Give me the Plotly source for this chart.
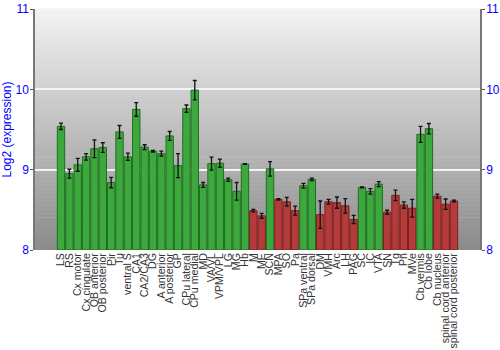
import plotly.graph_objects as go

categories = ["LS", "RS", "Cx motor", "Cx cingulate", "OB anterior", "OB posterior", "Pir", "Tu",
              "ventral S", "CA1", "CA2/CA3", "DG", "A anterior", "A posterior", "GP", "CPu lateral",
              "CPu medial", "MD", "VA/VL", "VPM/VPL", "LG", "MG", "Hb", "M", "ME", "SCN", "MPA", "SO",
              "Pa", "SPa ventral", "SPa dorsal", "DM", "VMH", "Arc", "LH", "PAG", "SC", "IC", "VTA",
              "SN", "Tg", "Pn", "MVe", "Cb vermis", "Cb lobe", "Cb nucleus", "spinal cord anterior",
              "spinal cord posterior"]

values = [9.54, 8.95, 9.06, 9.16, 9.26, 9.275, 8.84, 9.47,
          9.16, 9.75, 9.28, 9.23, 9.20, 9.42, 9.05, 9.76,
          9.99, 8.81, 9.075, 9.08, 8.875, 8.73, 9.07, 8.49, 8.425, 9.01, 8.63, 8.60,
          8.49, 8.80, 8.88, 8.44, 8.60, 8.59, 8.55, 8.38, 8.78, 8.73, 8.82,
          8.47, 8.68, 8.56, 8.52, 9.44, 9.51, 8.67, 8.57,
          8.61]

errors = [0.04, 0.055, 0.08, 0.04, 0.11, 0.06, 0.065, 0.08,
          0.045, 0.085, 0.03, 0.01, 0.03, 0.055, 0.15, 0.045,
          0.12, 0.03, 0.08, 0.05, 0.02, 0.11, 0.005, 0.015, 0.03, 0.09, 0.01, 0.055,
          0.055, 0.03, 0.015, 0.17, 0.03, 0.07, 0.09, 0.05, 0.005, 0.035, 0.03,
          0.025, 0.065, 0.04, 0.11, 0.1, 0.065, 0.025, 0.065,
          0.01]

expressed = [True] * 23 + [False, False, True, False, False, False, True, True,
                           False, False, False, False, False, True, True, True,
                           False, False, False, False, True, True, False, False, False]

y_ticks = [8, 9, 10, 11]

fill_colors = ["#3da83d" if e else "#b53a3a" for e in expressed]
line_colors = ["#1f6f1f" if e else "#7a2020" for e in expressed]

fig = go.Figure()

fig.add_trace(go.Bar(
    x=categories, y=[v - 8 for v in values], base=8,
    marker=dict(color=fill_colors, line=dict(color=line_colors, width=1)),
    error_y=dict(type="data", array=errors, color="#111111", thickness=1.3, width=2),
    hoverinfo="x+y",
))

# invisible twin trace so the right axis is drawn
fig.add_trace(go.Scatter(
    x=categories, y=values, yaxis="y2", mode="markers",
    marker=dict(opacity=0), hoverinfo="skip", showlegend=False,
))

# gradient background via strips
n = 60
top = (242, 242, 242)
bot = (140, 140, 140)
shapes = []
for i in range(n):
    t = i / (n - 1)
    c = tuple(int(round(top[k] + (bot[k] - top[k]) * t)) for k in range(3))
    y1 = 1 - i / n
    y0 = 1 - (i + 1) / n
    shapes.append(dict(type="rect", xref="paper", yref="paper", x0=0, x1=1, y0=y0, y1=y1 + 0.002,
                       fillcolor="rgb(%d,%d,%d)" % c, line=dict(width=0), layer="below"))

axis_common = dict(range=[8, 11], tickvals=y_ticks, ticks="outside", ticklen=3, tickcolor="#555555",
                   tickfont=dict(color="#0000ff", size=12, family="Liberation Sans, Arial"),
                   ticklabelstandoff=-1,
                   showline=True, linecolor="#777777", linewidth=1.5, zeroline=False)

fig.update_layout(
    width=500, height=350,
    margin=dict(l=35, r=20, t=9, b=100),
    paper_bgcolor="white", plot_bgcolor="white",
    shapes=shapes,
    showlegend=False,
    bargap=0.12,
    font=dict(family="Liberation Sans, Arial", color="#333333"),
    xaxis=dict(tickangle=-90, tickmode="array", tickvals=categories, ticktext=categories,
               tickfont=dict(size=10.6, color="#333333"), showline=False,
               ticks="", showgrid=False, automargin=False),
    yaxis=dict(**axis_common, showgrid=True, gridcolor="#f4f4f4", gridwidth=1.5,
               title=dict(text="Log2 (expression)", font=dict(color="#0000ff", size=12), standoff=4),
               automargin=False),
    yaxis2=dict(**axis_common, overlaying="y", side="right", showgrid=False, automargin=False),
)

fig.write_html("out.html")
